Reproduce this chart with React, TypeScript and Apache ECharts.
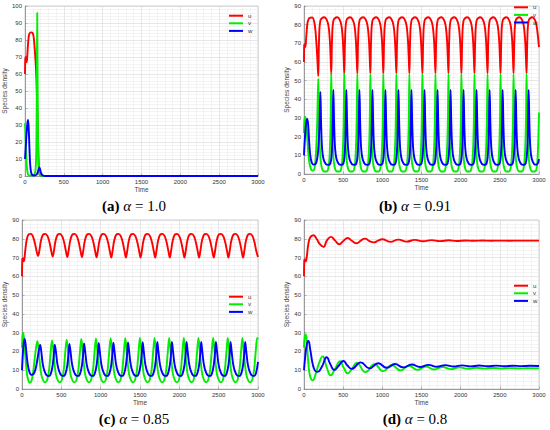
import React, { useEffect, useRef } from "react";
import * as echarts from "echarts";

type P = [number, number];

// ---------- tick / caption data ----------
const captionLetters = ["(a)", "(b)", "(c)", "(d)"];
const alphaValues = ["1.0", "0.91", "0.85", "0.8"];
const yMaxes = [100, 90, 90, 90];
const seriesNames = ["u", "v", "w"];
const seriesColors = ["#ff0000", "#00ee00", "#0000ff"];

// ---------- panel (a) alpha = 1.0 ----------
const uA: P[] = [[0,60],[4,69],[10,70],[18,67],[26,68.5],[38,77],[52,83],[75,84.5],[100,84],[115,80.5],[128,73],[142,63],[152,50],[162,32],[172,14],[180,4],[188,1],[200,0.3],[220,0],[3000,0]];
const vA: P[] = [[0,31],[4,27],[10,18],[18,9],[28,3.5],[40,1],[60,0.3],[100,0.3],[125,1.2],[138,5],[146,18],[152,50],[157,96],[162,60],[167,25],[173,8],[182,2],[195,0.4],[230,0],[3000,0]];
const wA: P[] = [[0,10],[8,16],[20,25],[32,31.5],[39,33],[47,29],[56,18],[65,8],[75,3],[90,0.8],[120,0.3],[150,0.8],[165,2.3],[176,4.3],[185,5],[194,4],[205,2],[220,0.6],[245,0.1],[270,0],[3000,0]];

// ---------- panel (b) alpha = 0.91 ----------
const uB: P[] = [
[0,60],[3,69],[10,69.5],[18,68],[28,73],[45,81],[70,83.6],[105,83.8],[135,80.5],[155,72],[170,62],
[182,52.5],[192,72],[210,82.3],[254,84],[302,81.3],[326,74],[339,63.5],
[348,53.6],[358,72],[376,82.3],[420,84],[468,81.3],[492,74],[505,63.5],
[514,53.8],[524,72],[542,82.3],[586,84],[634,81.3],[658,74],[671,63.5],
[681,53.8],[691,72],[709,82.3],[753,84],[801,81.3],[825,74],[838,63.5],
[847,53.9],[857,72],[875,82.3],[919,84],[967,81.3],[991,74],[1004,63.5],
[1013,53.9],[1023,72],[1041,82.3],[1085,84],[1133,81.3],[1157,74],[1170,63.5],
[1179,53.9],[1189,72],[1207,82.3],[1251,84],[1299,81.3],[1323,74],[1336,63.5],
[1345,53.9],[1355,72],[1373,82.3],[1417,84],[1465,81.3],[1489,74],[1502,63.5],
[1512,53.9],[1522,72],[1540,82.3],[1584,84],[1632,81.3],[1656,74],[1669,63.5],
[1678,53.9],[1688,72],[1706,82.3],[1750,84],[1798,81.3],[1822,74],[1835,63.5],
[1844,53.9],[1854,72],[1872,82.3],[1916,84],[1964,81.3],[1988,74],[2001,63.5],
[2010,53.9],[2020,72],[2038,82.3],[2082,84],[2130,81.3],[2154,74],[2167,63.5],
[2176,53.9],[2186,72],[2204,82.3],[2248,84],[2296,81.3],[2320,74],[2333,63.5],
[2343,53.9],[2353,72],[2371,82.3],[2415,84],[2463,81.3],[2487,74],[2500,63.5],
[2509,53.9],[2519,72],[2537,82.3],[2581,84],[2629,81.3],[2653,74],[2666,63.5],
[2675,53.9],[2685,72],[2703,82.3],[2747,84],[2795,81.3],[2819,74],[2832,63.5],
[2841,53.9],[2851,72],[2869,82.3],[2913,84],[2958,81.5],[2980,76],[3000,68]];
const vB: P[] = [
[0,22],[6,29],[16,30.5],[28,28],[45,17],[65,7],[90,2.5],[115,1.8],[138,4],[155,13],[170,30],
[182,51],[191,30],[204,12.5],[224,4],[257,1.3],[290,1.3],[312,3.5],[328,11],[340,27],
[348,54],[357,30],[370,12.5],[390,4],[423,1.3],[456,1.3],[478,3.5],[494,11],[506,27],
[514,53.8],[523,30],[536,12.5],[556,4],[589,1.3],[622,1.3],[644,3.5],[660,11],[672,27],
[681,53.6],[690,30],[703,12.5],[723,4],[756,1.3],[789,1.3],[811,3.5],[827,11],[839,27],
[847,53.5],[856,30],[869,12.5],[889,4],[922,1.3],[955,1.3],[977,3.5],[993,11],[1005,27],
[1013,53.5],[1022,30],[1035,12.5],[1055,4],[1088,1.3],[1121,1.3],[1143,3.5],[1159,11],[1171,27],
[1179,53.5],[1188,30],[1201,12.5],[1221,4],[1254,1.3],[1287,1.3],[1309,3.5],[1325,11],[1337,27],
[1345,53.5],[1354,30],[1367,12.5],[1387,4],[1420,1.3],[1453,1.3],[1475,3.5],[1491,11],[1503,27],
[1512,53.5],[1521,30],[1534,12.5],[1554,4],[1587,1.3],[1620,1.3],[1642,3.5],[1658,11],[1670,27],
[1678,53.5],[1687,30],[1700,12.5],[1720,4],[1753,1.3],[1786,1.3],[1808,3.5],[1824,11],[1836,27],
[1844,53.5],[1853,30],[1866,12.5],[1886,4],[1919,1.3],[1952,1.3],[1974,3.5],[1990,11],[2002,27],
[2010,53.5],[2019,30],[2032,12.5],[2052,4],[2085,1.3],[2118,1.3],[2140,3.5],[2156,11],[2168,27],
[2176,53.5],[2185,30],[2198,12.5],[2218,4],[2251,1.3],[2284,1.3],[2306,3.5],[2322,11],[2334,27],
[2343,53.5],[2352,30],[2365,12.5],[2385,4],[2418,1.3],[2451,1.3],[2473,3.5],[2489,11],[2501,27],
[2509,53.5],[2518,30],[2531,12.5],[2551,4],[2584,1.3],[2617,1.3],[2639,3.5],[2655,11],[2667,27],
[2675,53.5],[2684,30],[2697,12.5],[2717,4],[2750,1.3],[2783,1.3],[2805,3.5],[2821,11],[2833,27],
[2841,53.5],[2850,30],[2863,12.5],[2883,4],[2916,1.3],[2949,1.3],[2971,3.5],[2986,12],[3000,33]];
const wB: P[] = [
[0,10],[10,18],[25,26.5],[40,29.5],[52,27],[65,18],[80,10],[100,6],[125,5],[150,5.5],[170,8.5],[185,15],[198,27],
[209,44],[219,26],[231,13.5],[249,8],[279,5.3],[309,4.9],[336,5.6],[351,9.5],[364,21],
[375,45],[385,26],[397,13.5],[415,8],[445,5.3],[475,4.9],[502,5.6],[517,9.5],[530,21],
[541,45],[551,26],[563,13.5],[581,8],[611,5.3],[641,4.9],[668,5.6],[683,9.5],[696,21],
[708,45],[718,26],[730,13.5],[748,8],[778,5.3],[808,4.9],[835,5.6],[850,9.5],[863,21],
[874,45],[884,26],[896,13.5],[914,8],[944,5.3],[974,4.9],[1001,5.6],[1016,9.5],[1029,21],
[1040,45],[1050,26],[1062,13.5],[1080,8],[1110,5.3],[1140,4.9],[1167,5.6],[1182,9.5],[1195,21],
[1206,45],[1216,26],[1228,13.5],[1246,8],[1276,5.3],[1306,4.9],[1333,5.6],[1348,9.5],[1361,21],
[1372,45],[1382,26],[1394,13.5],[1412,8],[1442,5.3],[1472,4.9],[1499,5.6],[1514,9.5],[1527,21],
[1539,45],[1549,26],[1561,13.5],[1579,8],[1609,5.3],[1639,4.9],[1666,5.6],[1681,9.5],[1694,21],
[1705,45],[1715,26],[1727,13.5],[1745,8],[1775,5.3],[1805,4.9],[1832,5.6],[1847,9.5],[1860,21],
[1871,45],[1881,26],[1893,13.5],[1911,8],[1941,5.3],[1971,4.9],[1998,5.6],[2013,9.5],[2026,21],
[2037,45],[2047,26],[2059,13.5],[2077,8],[2107,5.3],[2137,4.9],[2164,5.6],[2179,9.5],[2192,21],
[2203,45],[2213,26],[2225,13.5],[2243,8],[2273,5.3],[2303,4.9],[2330,5.6],[2345,9.5],[2358,21],
[2370,45],[2380,26],[2392,13.5],[2410,8],[2440,5.3],[2470,4.9],[2497,5.6],[2512,9.5],[2525,21],
[2536,45],[2546,26],[2558,13.5],[2576,8],[2606,5.3],[2636,4.9],[2663,5.6],[2678,9.5],[2691,21],
[2702,45],[2712,26],[2724,13.5],[2742,8],[2772,5.3],[2802,4.9],[2829,5.6],[2844,9.5],[2857,21],
[2868,45],[2878,26],[2890,13.5],[2908,8],[2938,5.3],[2965,5],[2988,6],[3000,8]];

// ---------- panel (c) alpha = 0.85 ----------
const uC: P[] = [
[0,60],[4,69],[10,69.5],[18,68],[28,68.6],[42,74],[60,79.5],[85,82.4],[115,82.6],[145,80.5],[170,76.5],[190,72.5],
[204,70.8],[220,73.5],[240,78.8],[266,82.2],[296,82.6],[326,81.3],[350,78],[372,73.5],
[390,70.5],[406,73.5],[426,78.8],[452,82.2],[482,82.6],[512,81.3],[536,78],[558,73.5],
[576,70.3],[592,73.5],[612,78.8],[638,82.2],[668,82.6],[698,81.3],[722,78],[744,73.5],
[762,70.2],[778,73.5],[798,78.8],[824,82.2],[854,82.6],[884,81.3],[908,78],[930,73.5],
[948,70.1],[964,73.5],[984,78.8],[1010,82.2],[1040,82.6],[1070,81.3],[1094,78],[1116,73.5],
[1135,70],[1151,73.5],[1171,78.8],[1197,82.2],[1227,82.6],[1257,81.3],[1281,78],[1303,73.5],
[1321,70],[1337,73.5],[1357,78.8],[1383,82.2],[1413,82.6],[1443,81.3],[1467,78],[1489,73.5],
[1507,70],[1523,73.5],[1543,78.8],[1569,82.2],[1599,82.6],[1629,81.3],[1653,78],[1675,73.5],
[1693,70],[1709,73.5],[1729,78.8],[1755,82.2],[1785,82.6],[1815,81.3],[1839,78],[1861,73.5],
[1879,70],[1895,73.5],[1915,78.8],[1941,82.2],[1971,82.6],[2001,81.3],[2025,78],[2047,73.5],
[2065,70],[2081,73.5],[2101,78.8],[2127,82.2],[2157,82.6],[2187,81.3],[2211,78],[2233,73.5],
[2251,70],[2267,73.5],[2287,78.8],[2313,82.2],[2343,82.6],[2373,81.3],[2397,78],[2419,73.5],
[2438,70],[2454,73.5],[2474,78.8],[2500,82.2],[2530,82.6],[2560,81.3],[2584,78],[2606,73.5],
[2624,70],[2640,73.5],[2660,78.8],[2686,82.2],[2716,82.6],[2746,81.3],[2770,78],[2792,73.5],
[2810,70],[2826,73.5],[2846,78.8],[2872,82.2],[2902,82.6],[2932,81.3],[2956,78],[2978,73.5],[3000,70.3]];
const vC: P[] = [
[0,22],[6,28],[15,29.8],[28,26],[45,16],[65,7.5],[85,4],[100,3.3],[122,4.5],[145,10],[165,17.5],[182,23],
[196,25.5],[210,22],[226,14],[246,7.5],[274,4.2],[296,3.6],[320,4.8],[344,10],[364,19.5],
[382,25.8],[396,22],[412,14],[432,7.5],[460,4.2],[482,3.6],[506,4.8],[530,10],[550,19.5],
[568,26.3],[582,22],[598,14],[618,7.5],[646,4.2],[668,3.6],[692,4.8],[716,10],[736,19.5],
[754,26.7],[768,22],[784,14],[804,7.5],[832,4.2],[854,3.6],[878,4.8],[902,10],[922,19.5],
[940,26.9],[954,22],[970,14],[990,7.5],[1018,4.2],[1040,3.6],[1064,4.8],[1088,10],[1108,19.5],
[1127,27],[1141,22],[1157,14],[1177,7.5],[1205,4.2],[1227,3.6],[1251,4.8],[1275,10],[1295,19.5],
[1313,27.1],[1327,22],[1343,14],[1363,7.5],[1391,4.2],[1413,3.6],[1437,4.8],[1461,10],[1481,19.5],
[1499,27.2],[1513,22],[1529,14],[1549,7.5],[1577,4.2],[1599,3.6],[1623,4.8],[1647,10],[1667,19.5],
[1685,27.2],[1699,22],[1715,14],[1735,7.5],[1763,4.2],[1785,3.6],[1809,4.8],[1833,10],[1853,19.5],
[1871,27.2],[1885,22],[1901,14],[1921,7.5],[1949,4.2],[1971,3.6],[1995,4.8],[2019,10],[2039,19.5],
[2057,27.2],[2071,22],[2087,14],[2107,7.5],[2135,4.2],[2157,3.6],[2181,4.8],[2205,10],[2225,19.5],
[2243,27.2],[2257,22],[2273,14],[2293,7.5],[2321,4.2],[2343,3.6],[2367,4.8],[2391,10],[2411,19.5],
[2430,27.2],[2444,22],[2460,14],[2480,7.5],[2508,4.2],[2530,3.6],[2554,4.8],[2578,10],[2598,19.5],
[2616,27.2],[2630,22],[2646,14],[2666,7.5],[2694,4.2],[2716,3.6],[2740,4.8],[2764,10],[2784,19.5],
[2802,27.2],[2816,22],[2832,14],[2852,7.5],[2880,4.2],[2902,3.6],[2926,4.8],[2950,10],[2970,19.5],[2990,27.2],[3000,26.5]];
const wC: P[] = [
[0,10],[10,18],[22,24.5],[35,26.7],[50,22],[70,14],[95,9],[125,7.5],[155,8.5],[180,12],[200,17],[218,21.5],
[231,23.5],[245,20],[263,13.5],[286,9.5],[316,7.2],[346,7],[371,8.8],[391,13],[406,19],
[417,23.6],[431,20],[449,13.5],[472,9.5],[502,7.2],[532,7],[557,8.8],[577,13],[592,19],
[603,24],[617,20],[635,13.5],[658,9.5],[688,7.2],[718,7],[743,8.8],[763,13],[778,19],
[789,24.3],[803,20],[821,13.5],[844,9.5],[874,7.2],[904,7],[929,8.8],[949,13],[964,19],
[975,24.5],[989,20],[1007,13.5],[1030,9.5],[1060,7.2],[1090,7],[1115,8.8],[1135,13],[1150,19],
[1162,24.7],[1176,20],[1194,13.5],[1217,9.5],[1247,7.2],[1277,7],[1302,8.8],[1322,13],[1337,19],
[1348,24.8],[1362,20],[1380,13.5],[1403,9.5],[1433,7.2],[1463,7],[1488,8.8],[1508,13],[1523,19],
[1534,24.9],[1548,20],[1566,13.5],[1589,9.5],[1619,7.2],[1649,7],[1674,8.8],[1694,13],[1709,19],
[1720,25],[1734,20],[1752,13.5],[1775,9.5],[1805,7.2],[1835,7],[1860,8.8],[1880,13],[1895,19],
[1906,25],[1920,20],[1938,13.5],[1961,9.5],[1991,7.2],[2021,7],[2046,8.8],[2066,13],[2081,19],
[2092,25],[2106,20],[2124,13.5],[2147,9.5],[2177,7.2],[2207,7],[2232,8.8],[2252,13],[2267,19],
[2278,25],[2292,20],[2310,13.5],[2333,9.5],[2363,7.2],[2393,7],[2418,8.8],[2438,13],[2453,19],
[2465,25],[2479,20],[2497,13.5],[2520,9.5],[2550,7.2],[2580,7],[2605,8.8],[2625,13],[2640,19],
[2651,25],[2665,20],[2683,13.5],[2706,9.5],[2736,7.2],[2766,7],[2791,8.8],[2811,13],[2826,19],
[2837,25],[2851,20],[2869,13.5],[2892,9.5],[2922,7.2],[2952,7],[2977,8.8],[3000,14.5]];

// ---------- panel (d) alpha = 0.8 ----------
const uD: P[] = [[0,60],[4,68.5],[12,69],[22,68],[34,70],[55,77],[80,80.8],[119,81.9],[160,80],[205,77],[247,75.7],[295,79.3],[344,81],[398,79],[450,77.1],[505,79],[557,80.4],[615,78.8],[671,77.6],[725,79],[778,80.1],[835,78.8],[892,78.1],[945,79],[999,79.75],[1100,78.35],[1205,79.55],[1310,78.5],[1415,79.4],[1520,78.65],[1630,79.3],[1735,78.75],[1845,79.2],[1950,78.85],[2060,79.12],[2170,78.92],[2280,79.08],[2390,78.96],[2500,79.04],[2620,78.98],[2750,79.02],[3000,79]];
const vD: P[] = [[0,22],[8,27.5],[21,29],[35,25],[55,14],[80,6.5],[111,4.6],[145,7.5],[190,13.5],[238,17.4],[290,11.5],[340,7.3],[400,11],[459,14.8],[510,11],[557,8.4],[615,11],[672,13.9],[786,9.0],[900,13.2],[1012,9.5],[1118,12.8],[1232,9.9],[1338,12.4],[1447,10.2],[1555,12.0],[1663,10.4],[1770,11.7],[1878,10.6],[1985,11.5],[2092,10.75],[2200,11.3],[2308,10.85],[2415,11.2],[2520,10.9],[2630,11.1],[2740,10.95],[2850,11.05],[3000,11]];
const wD: P[] = [[0,10],[15,17],[35,23.5],[55,25.6],[80,21],[110,13.5],[140,9.8],[170,9.1],[230,12],[289,16.9],[338,13],[387,10.1],[445,12.5],[502,14.9],[555,12.5],[609,10.7],[724,14.2],[834,11.0],[949,13.7],[1055,11.3],[1161,13.3],[1268,11.5],[1375,13.05],[1482,11.7],[1590,12.85],[1697,11.85],[1805,12.7],[1912,11.95],[2020,12.6],[2127,12.05],[2235,12.5],[2342,12.1],[2450,12.45],[2557,12.15],[2665,12.4],[2772,12.2],[2880,12.35],[3000,12.25]];

const panelSeries: P[][][] = [
  [uA, vA, wA],
  [uB, vB, wB],
  [uC, vC, wC],
  [uD, vD, wD],
];
const panelSmooth = [0.25, 0.35, 0.35, 0.5];

// ---------- layout (pixels) ----------
const gridRects = [
  { left: 25, top: 6, width: 233, height: 170 },
  { left: 304, top: 6, width: 235, height: 168 },
  { left: 22, top: 220, width: 236, height: 169 },
  { left: 304, top: 220, width: 235, height: 169 },
];
const legendPos = [
  { left: 229, top: 12.7 },
  { left: 514, top: 4.3 },
  { left: 229, top: 293.7 },
  { left: 514, top: 282.7 },
];
const captionPos = [
  { x: 134, y: 206 },
  { x: 415, y: 206 },
  { x: 134, y: 419 },
  { x: 415, y: 419 },
];

const SANS = "Liberation Sans, Arial, sans-serif";
const SERIF = "Liberation Serif, Times New Roman, serif";

function buildOption(): echarts.EChartsOption {
  const grid = gridRects.map((r) => ({
    ...r,
    show: true,
    borderColor: "#c4c4c4",
    borderWidth: 0.8,
    containLabel: false,
  }));
  const axisCommon = (gi: number) => ({
    gridIndex: gi,
    type: "value" as const,
    nameLocation: "middle" as const,
    nameTextStyle: { fontSize: 6.5, color: "#444", fontFamily: SANS },
    axisLine: { show: true, onZero: false, lineStyle: { color: "#8a8a8a", width: 0.8 } },
    axisTick: { show: true, inside: true, length: 2.5, lineStyle: { color: "#8a8a8a", width: 0.6 } },
    axisLabel: {
      fontSize: 6,
      color: "#333",
      fontFamily: SANS,
      margin: 3,
      formatter: (v: number) => String(v),
    },
    splitLine: { show: true, lineStyle: { color: "#d6d6d6", width: 0.6 } },
    minorTick: { show: false, splitNumber: 5 },
    minorSplitLine: { show: true, lineStyle: { color: "#e9e9e9", width: 0.5 } },
  });
  const xAxis = gridRects.map((_, i) => ({
    ...axisCommon(i),
    min: 0,
    max: 3000,
    interval: 500,
    name: "Time",
    nameGap: 10,
  }));
  const yAxis = gridRects.map((_, i) => ({
    ...axisCommon(i),
    min: 0,
    max: yMaxes[i],
    interval: 10,
    name: "Species density",
    nameGap: 11,
  }));
  const series: any[] = [];
  panelSeries.forEach((arr, i) => {
    arr.forEach((data, k) => {
      series.push({
        type: "line",
        name: seriesNames[k],
        xAxisIndex: i,
        yAxisIndex: i,
        data,
        showSymbol: false,
        symbol: "none",
        smooth: panelSmooth[i],
        color: seriesColors[k],
        lineStyle: { width: 1.9, color: seriesColors[k] },
        z: 2 + k,
      });
    });
  });
  const legend = legendPos.map((p) => ({
    orient: "vertical" as const,
    left: p.left,
    top: p.top,
    padding: 0,
    itemWidth: 14,
    itemHeight: 2,
    itemGap: 1.6,
    icon: "rect",
    selectedMode: false,
    data: seriesNames,
    textStyle: { fontSize: 6, lineHeight: 6, color: "#333", fontFamily: SANS },
  }));
  const graphic = captionPos.map((p, i) => ({
    type: "text" as const,
    x: p.x,
    y: p.y,
    style: {
      text: `{b|${captionLetters[i]}} {i|α} = ${alphaValues[i]}`,
      align: "center",
      textAlign: "center",
      verticalAlign: "middle",
      textVerticalAlign: "middle",
      fill: "#000",
      fontFamily: SERIF,
      fontSize: 15,
      rich: {
        b: { fontWeight: "bold", fontFamily: SERIF, fontSize: 15, fill: "#000" },
        i: { fontStyle: "italic", fontFamily: SERIF, fontSize: 15, fill: "#000" },
      },
    },
  }));
  return {
    animation: false,
    backgroundColor: "#ffffff",
    grid,
    xAxis,
    yAxis,
    legend,
    series,
    graphic,
  } as any;
}

export default function App() {
  const ref = useRef<HTMLDivElement>(null);
  useEffect(() => {
    if (!ref.current) return;
    const chart = echarts.init(ref.current, null, { renderer: "svg" });
    chart.setOption(buildOption());
    return () => chart.dispose();
  }, []);
  return (
    <div
      ref={ref}
      style={{ position: "absolute", left: 0, top: 0, width: 550, height: 430, background: "#fff" }}
    />
  );
}
